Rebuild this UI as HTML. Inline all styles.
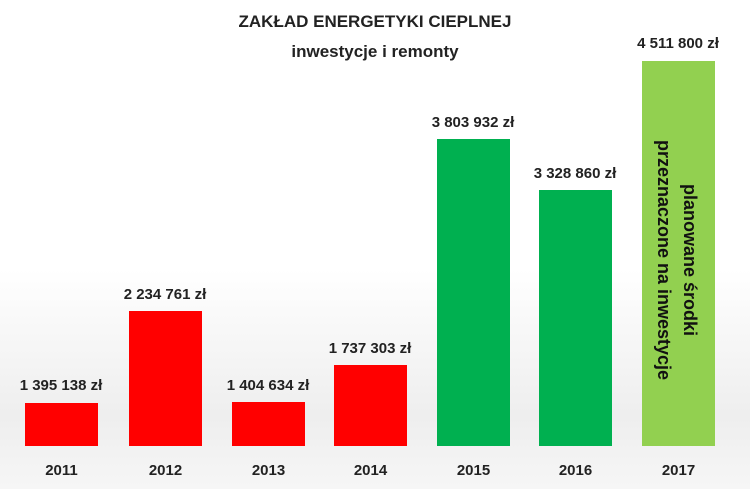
<!DOCTYPE html>
<html><head><meta charset="utf-8"><style>
body{margin:0;width:750px;height:489px;overflow:hidden;font-family:"Liberation Sans",sans-serif;font-weight:bold;color:#222;
background:linear-gradient(#fff 0,#fff 55%,#eee 85%,#f6f6f6 100%);position:relative}
.t{position:absolute;left:0;width:750px;text-align:center;font-size:17px}
.b{position:absolute;bottom:43px;width:73px}
.v{position:absolute;width:140px;text-align:center;font-size:15px}
.y{position:absolute;top:462px;width:73px;text-align:center;font-size:15px}
.r{position:absolute;transform:rotate(90deg);transform-origin:center;white-space:nowrap;font-size:17px;color:#111;text-align:center;width:300px}
</style></head><body>
<div class="t" style="top:12px">ZAKŁAD ENERGETYKI CIEPLNEJ</div>
<div class="t" style="top:42px">inwestycje i remonty</div>

<div class="b" style="left:25px;top:403px;background:#f00"></div>
<div class="b" style="left:129px;top:311px;background:#f00"></div>
<div class="b" style="left:232px;top:402px;background:#f00"></div>
<div class="b" style="left:334px;top:365px;background:#f00"></div>
<div class="b" style="left:437px;top:139px;background:#00b050"></div>
<div class="b" style="left:539px;top:190px;background:#00b050"></div>
<div class="b" style="left:642px;top:61px;background:#92d050"></div>

<div class="v" style="left:-9px;top:377px">1 395 138 zł</div>
<div class="v" style="left:95px;top:286px">2 234 761 zł</div>
<div class="v" style="left:198px;top:377px">1 404 634 zł</div>
<div class="v" style="left:300px;top:340px">1 737 303 zł</div>
<div class="v" style="left:403px;top:114px">3 803 932 zł</div>
<div class="v" style="left:505px;top:165px">3 328 860 zł</div>
<div class="v" style="left:608px;top:35px">4 511 800 zł</div>

<div class="y" style="left:25px">2011</div>
<div class="y" style="left:129px">2012</div>
<div class="y" style="left:232px">2013</div>
<div class="y" style="left:334px">2014</div>
<div class="y" style="left:437px">2015</div>
<div class="y" style="left:539px">2016</div>
<div class="y" style="left:642px">2017</div>

<div class="r" style="left:527px;top:234px;line-height:26px;font-size:18px">planowane środki<br>przeznaczone na inwestycje</div>
</body></html>
